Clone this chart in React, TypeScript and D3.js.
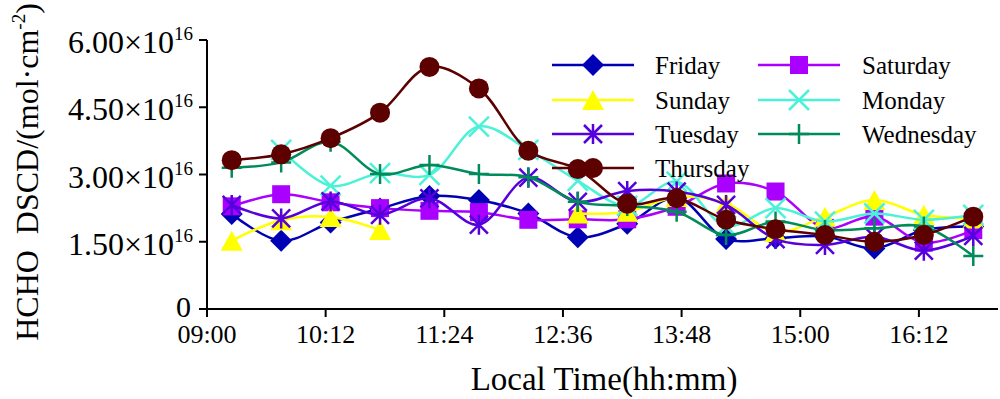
import * as d3 from 'd3';

// sample times (hh:mm) and HCHO DSCD values in units of 1e16 molec/cm2
const times = ['09:15', '09:45', '10:15', '10:45', '11:15', '11:45', '12:15', '12:45',
  '13:15', '13:45', '14:15', '14:45', '15:15', '15:45', '16:15', '16:45'];

const friday = [2.12, 1.52, 1.93, 2.24, 2.52, 2.43, 2.13, 1.6, 1.9, 2.48, 1.56, 1.58, 1.62, 1.35, 1.76, 1.84];
const saturday = [2.29, 2.56, 2.38, 2.25, 2.19, 2.16, 1.99, 2.0, 2.0, 2.28, 2.8, 2.62, 1.81, 2.06, 1.48, 1.76];
const sunday = [1.52, 1.98, 2.05, 1.76, null, null, null, 2.13, 2.17, 2.5, 2.36, 1.72, 2.06, 2.43, 2.1, 2.02];
const monday = [null, 3.55, 2.75, 3.03, 2.99, 4.07, 3.55, 2.86, 2.3, 2.84, 1.85, 2.25, 1.95, 2.13, 1.99, 2.1];
const tuesday = [2.32, 2.02, 2.4, 2.1, 2.47, 1.88, 2.93, 2.39, 2.63, 2.62, 2.32, 1.56, 1.43, 1.61, 1.3, 1.63];
const wednesday = [3.15, 3.27, 3.73, 3.01, 3.21, 3.01, 2.94, 2.39, 2.3, 2.17, 1.65, 1.95, 1.76, 1.8, 1.84, 1.18];
const thursday = [3.32, 3.45, 3.81, 4.38, 5.4, 4.92, 3.53, 3.12, 2.35, 2.47, 1.99, 1.78, 1.65, 1.5, 1.65, 2.06];

const yTicks = [0, 1.5, 3, 4.5, 6];
const xTickLabels = ['09:00', '10:12', '11:24', '12:36', '13:48', '15:00', '16:12'];

const series = [
  { name: 'Friday', values: friday, color: '#0000b4', marker: 'diamond' },
  { name: 'Saturday', values: saturday, color: '#aa00ff', marker: 'square' },
  { name: 'Sunday', values: sunday, color: '#ffff00', marker: 'triangle' },
  { name: 'Monday', values: monday, color: '#4cf2d8', marker: 'x' },
  { name: 'Tuesday', values: tuesday, color: '#5500dd', marker: 'star' },
  { name: 'Wednesday', values: wednesday, color: '#008b5a', marker: 'plus' },
  { name: 'Thursday', values: thursday, color: '#5c0000', marker: 'circle' },
];

const toMin = (s: string) => {
  const [h, m] = s.split(':').map(Number);
  return h * 60 + m;
};

const Marker = ({ type, color, x, y }: { type: string; color: string; x: number; y: number }) => {
  const t = `translate(${x},${y})`;
  switch (type) {
    case 'diamond':
      return <path transform={t} d="M0,-11L11,0L0,11L-11,0Z" fill={color} />;
    case 'square':
      return <rect x={x - 9} y={y - 9} width={18} height={18} fill={color} />;
    case 'triangle':
      return <path transform={t} d="M0,-10L11,10L-11,10Z" fill={color} />;
    case 'x':
      return <path transform={t} d="M-10,-10L10,10M-10,10L10,-10" stroke={color} strokeWidth={2.5} />;
    case 'star':
      return <path transform={t} d="M-9,-9L9,9M-9,9L9,-9M0,-10V10" stroke={color} strokeWidth={2.5} />;
    case 'plus':
      return <path transform={t} d="M0,-10V10M-10,0H10" stroke={color} strokeWidth={2.5} />;
    default:
      return <circle cx={x} cy={y} r={10} fill={color} />;
  }
};

export default function App() {
  const width = 1000;
  const height = 399;
  const font = '"Liberation Serif", "Times New Roman", serif';

  const x = d3.scaleLinear().domain([540, 1020]).range([207, 998]);
  const y = d3.scaleLinear().domain([0, 6]).range([309, 40]);

  const line = d3
    .line<number | null>()
    .defined((d) => d != null)
    .curve(d3.curveCatmullRom)
    .x((d, i) => x(toMin(times[i])))
    .y((d) => y(d as number));

  const legendRows = [65, 100, 134, 168];

  return (
    <svg width={width} height={height} style={{ position: 'absolute', left: 0, top: 0, background: '#fff' }}>
      <rect width={width} height={height} fill="#fff" />

      {/* axes */}
      <g stroke="#000" strokeWidth={2} fill="none">
        <line x1={x(540)} x2={x(540)} y1={y(6)} y2={y(0)} />
        <line x1={x(540)} x2={x(1020)} y1={y(0)} y2={y(0)} />
        {yTicks.map((t) => (
          <line key={t} x1={x(540) - 8} x2={x(540)} y1={y(t)} y2={y(t)} />
        ))}
        {xTickLabels.map((t) => (
          <line key={t} x1={x(toMin(t))} x2={x(toMin(t))} y1={y(0)} y2={y(0) + 8} />
        ))}
      </g>

      <g fontFamily={font} fill="#000">
        {yTicks.map((t) =>
          t === 0 ? (
            <text key={t} x={191} y={y(t) + 8} fontSize={30} textAnchor="end">0</text>
          ) : (
            <text key={t} x={193} y={y(t) + 13} fontSize={32} textAnchor="end">
              {t.toFixed(2)}×10
              <tspan fontSize={19} dy={-13}>16</tspan>
            </text>
          )
        )}
        {xTickLabels.map((t) => (
          <text key={t} x={x(toMin(t))} y={343} fontSize={26} textAnchor="middle">{t}</text>
        ))}
        <text x={604} y={390} fontSize={33} textAnchor="middle">Local Time(hh:mm)</text>
        <text
          transform="translate(38,172) rotate(-90)"
          fontSize={32}
          textAnchor="middle"
          style={{ whiteSpace: 'pre' }}
        >
          {'HCHO  DSCD/(mol·cm'}
          <tspan fontSize={19} dy={-13}>-2</tspan>
          <tspan dy={13}>)</tspan>
        </text>
      </g>

      {/* series */}
      {series.map((s) => (
        <g key={s.name}>
          <path d={line(s.values) || ''} fill="none" stroke={s.color} strokeWidth={2.5} />
          {s.values.map((v, i) =>
            v == null ? null : (
              <Marker key={i} type={s.marker} color={s.color} x={x(toMin(times[i]))} y={y(v)} />
            )
          )}
        </g>
      ))}

      {/* legend */}
      {series.map((s, i) => {
        const col = i % 2;
        const cy = legendRows[Math.floor(i / 2)];
        const lx = col === 0 ? 552 : 758;
        const tx = col === 0 ? 655 : 862;
        return (
          <g key={s.name}>
            <line x1={lx} x2={lx + 82} y1={cy} y2={cy} stroke={s.color} strokeWidth={2.5} />
            <Marker type={s.marker} color={s.color} x={lx + 41} y={cy} />
            <text x={tx} y={cy + 9} fontSize={25} fontFamily={font} fill="#000">{s.name}</text>
          </g>
        );
      })}
    </svg>
  );
}
